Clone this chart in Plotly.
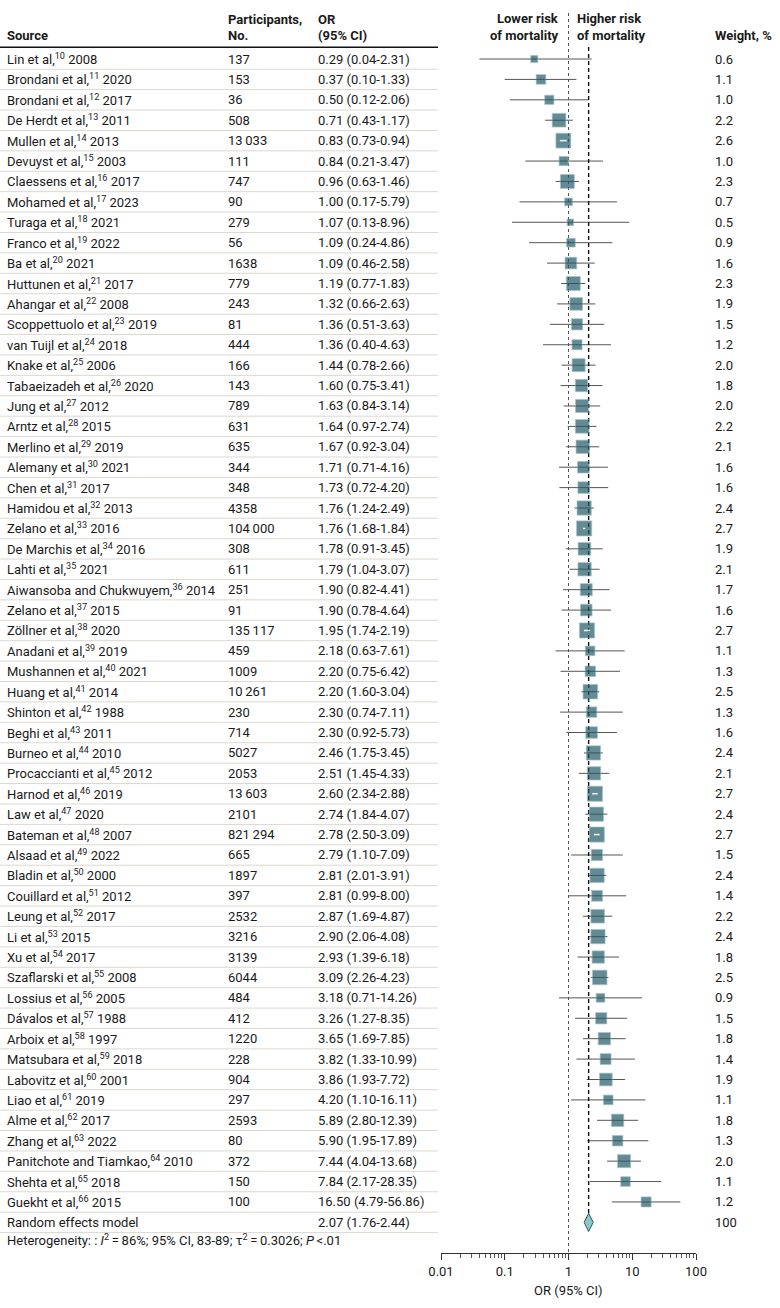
import math
import plotly.graph_objects as go

# ---------------- data ----------------
sources = [
    "Lin et al,<sup>10</sup> 2008", "Brondani et al,<sup>11</sup> 2020", "Brondani et al,<sup>12</sup> 2017",
    "De Herdt et al,<sup>13</sup> 2011", "Mullen et al,<sup>14</sup> 2013", "Devuyst et al,<sup>15</sup> 2003",
    "Claessens et al,<sup>16</sup> 2017", "Mohamed et al,<sup>17</sup> 2023", "Turaga et al,<sup>18</sup> 2021",
    "Franco et al,<sup>19</sup> 2022", "Ba et al,<sup>20</sup> 2021", "Huttunen et al,<sup>21</sup> 2017",
    "Ahangar et al,<sup>22</sup> 2008", "Scoppettuolo et al,<sup>23</sup> 2019", "van Tuijl et al,<sup>24</sup> 2018",
    "Knake et al,<sup>25</sup> 2006", "Tabaeizadeh et al,<sup>26</sup> 2020", "Jung et al,<sup>27</sup> 2012",
    "Arntz et al,<sup>28</sup> 2015", "Merlino et al,<sup>29</sup> 2019", "Alemany et al,<sup>30</sup> 2021",
    "Chen et al,<sup>31</sup> 2017", "Hamidou et al,<sup>32</sup> 2013", "Zelano et al,<sup>33</sup> 2016",
    "De Marchis et al,<sup>34</sup> 2016", "Lahti et al,<sup>35</sup> 2021",
    "Aiwansoba and Chukwuyem,<sup>36</sup> 2014", "Zelano et al,<sup>37</sup> 2015",
    "Zöllner et al,<sup>38</sup> 2020", "Anadani et al,<sup>39</sup> 2019", "Mushannen et al,<sup>40</sup> 2021",
    "Huang et al,<sup>41</sup> 2014", "Shinton et al,<sup>42</sup> 1988", "Beghi et al,<sup>43</sup> 2011",
    "Burneo et al,<sup>44</sup> 2010", "Procaccianti et al,<sup>45</sup> 2012", "Harnod et al,<sup>46</sup> 2019",
    "Law et al,<sup>47</sup> 2020", "Bateman et al,<sup>48</sup> 2007", "Alsaad et al,<sup>49</sup> 2022",
    "Bladin et al,<sup>50</sup> 2000", "Couillard et al,<sup>51</sup> 2012", "Leung et al,<sup>52</sup> 2017",
    "Li et al,<sup>53</sup> 2015", "Xu et al,<sup>54</sup> 2017", "Szaflarski et al,<sup>55</sup> 2008",
    "Lossius et al,<sup>56</sup> 2005", "Dávalos et al,<sup>57</sup> 1988", "Arboix et al,<sup>58</sup> 1997",
    "Matsubara et al,<sup>59</sup> 2018", "Labovitz et al,<sup>60</sup> 2001", "Liao et al,<sup>61</sup> 2019",
    "Alme et al,<sup>62</sup> 2017", "Zhang et al,<sup>63</sup> 2022",
    "Panitchote and Tiamkao,<sup>64</sup> 2010", "Shehta et al,<sup>65</sup> 2018",
    "Guekht et al,<sup>66</sup> 2015",
]
participants = [
    "137", "153", "36", "508", "13\u2009033", "111", "747", "90", "279", "56", "1638", "779", "243", "81",
    "444", "166", "143", "789", "631", "635", "344", "348", "4358", "104\u2009000", "308", "611", "251",
    "91", "135\u2009117", "459", "1009", "10\u2009261", "230", "714", "5027", "2053", "13\u2009603", "2101",
    "821\u2009294", "665", "1897", "397", "2532", "3216", "3139", "6044", "484", "412", "1220", "228",
    "904", "297", "2593", "80", "372", "150", "100",
]
or_est = [
    0.29, 0.37, 0.50, 0.71, 0.83, 0.84, 0.96, 1.00, 1.07, 1.09, 1.09, 1.19, 1.32, 1.36, 1.36, 1.44,
    1.60, 1.63, 1.64, 1.67, 1.71, 1.73, 1.76, 1.76, 1.78, 1.79, 1.90, 1.90, 1.95, 2.18, 2.20, 2.20,
    2.30, 2.30, 2.46, 2.51, 2.60, 2.74, 2.78, 2.79, 2.81, 2.81, 2.87, 2.90, 2.93, 3.09, 3.18, 3.26,
    3.65, 3.82, 3.86, 4.20, 5.89, 5.90, 7.44, 7.84, 16.50,
]
ci_low = [
    0.04, 0.10, 0.12, 0.43, 0.73, 0.21, 0.63, 0.17, 0.13, 0.24, 0.46, 0.77, 0.66, 0.51, 0.40, 0.78,
    0.75, 0.84, 0.97, 0.92, 0.71, 0.72, 1.24, 1.68, 0.91, 1.04, 0.82, 0.78, 1.74, 0.63, 0.75, 1.60,
    0.74, 0.92, 1.75, 1.45, 2.34, 1.84, 2.50, 1.10, 2.01, 0.99, 1.69, 2.06, 1.39, 2.26, 0.71, 1.27,
    1.69, 1.33, 1.93, 1.10, 2.80, 1.95, 4.04, 2.17, 4.79,
]
ci_high = [
    2.31, 1.33, 2.06, 1.17, 0.94, 3.47, 1.46, 5.79, 8.96, 4.86, 2.58, 1.83, 2.63, 3.63, 4.63, 2.66,
    3.41, 3.14, 2.74, 3.04, 4.16, 4.20, 2.49, 1.84, 3.45, 3.07, 4.41, 4.64, 2.19, 7.61, 6.42, 3.04,
    7.11, 5.73, 3.45, 4.33, 2.88, 4.07, 3.09, 7.09, 3.91, 8.00, 4.87, 4.08, 6.18, 4.23, 14.26, 8.35,
    7.85, 10.99, 7.72, 16.11, 12.39, 17.89, 13.68, 28.35, 56.86,
]
weights = [
    0.6, 1.1, 1.0, 2.2, 2.6, 1.0, 2.3, 0.7, 0.5, 0.9, 1.6, 2.3, 1.9, 1.5, 1.2, 2.0, 1.8, 2.0, 2.2,
    2.1, 1.6, 1.6, 2.4, 2.7, 1.9, 2.1, 1.7, 1.6, 2.7, 1.1, 1.3, 2.5, 1.3, 1.6, 2.4, 2.1, 2.7, 2.4,
    2.7, 1.5, 2.4, 1.4, 2.2, 2.4, 1.8, 2.5, 0.9, 1.5, 1.8, 1.4, 1.9, 1.1, 1.8, 1.3, 2.0, 1.1, 1.2,
]
pooled_label = "Random effects model"
pooled_est, pooled_low, pooled_high = 2.07, 1.76, 2.44
pooled_weight = "100"
heterogeneity = ("Heterogeneity: : <i>I</i><sup>2</sup>\u2009=\u200986%; 95% CI, 83-89; "
                 "τ<sup>2</sup>\u2009=\u20090.3026; <i>P</i>\u2009<.01")
axis_ticks = [0.01, 0.1, 1, 10, 100]
axis_ticktext = ["0.01", "0.1", "1", "10", "100"]
minor_ticks = [m * d for d in (0.01, 0.1, 1, 10) for m in range(2, 10)]

# ---------------- geometry / style ----------------
W, H = 780, 1308
ROW0, ROWH = 59.0, 20.41          # pixel centre of first row, row pitch
Y_TOP, Y_BOT = -ROW0 / ROWH, (H - ROW0) / ROWH
def py(p):                          # pixel -> row units
    return (p - ROW0) / ROWH
AXIS_PX = 1253                      # pixel row of the OR axis line
X0_PX, X1_PX = 441, 696             # forest axis span in px
PX_PER_DEC = (X1_PX - X0_PX) / 4.0
FONT = "Roboto"
FS = 13
TXT = "#1a1a1a"
BOX = "#235a67"
BOX_EDGE = "#7aaeb4"
DIAMOND = "#8dc8c4"
SEP = "#dcd8d0"
COL_SRC, COL_N, COL_OR, COL_W = 5, 226, 316, 713
TABLE_RIGHT = 438

n = len(sources)
rows = list(range(n))
pooled_row = n
FX = dict(xaxis="x2", yaxis="y2", hoverinfo="skip")

fig = go.Figure()

# CI lines
cx, cy = [], []
for i in rows:
    cx += [ci_low[i], ci_high[i], None]
    cy += [i, i, None]
fig.add_trace(go.Scatter(x=cx, y=cy, mode="lines", line=dict(color="#555555", width=1), **FX))

# reference lines
fig.add_trace(go.Scatter(x=[1, 1], y=[py(13), py(AXIS_PX)], mode="lines",
                         line=dict(color="#555", width=1, dash="dot"), **FX))
fig.add_trace(go.Scatter(x=[pooled_est, pooled_est], y=[py(47), pooled_row - 0.45], mode="lines",
                         line=dict(color="#111", width=1.4, dash="4px,3px"), **FX))

# squares
sizes = [9.2 * math.sqrt(w) for w in weights]
fig.add_trace(go.Scatter(x=or_est, y=rows, mode="markers",
                         marker=dict(symbol="square", size=sizes, color=BOX,
                                     line=dict(color=BOX_EDGE, width=0.7)), **FX))

# CI inside box drawn white
wx, wy = [], []
for i in rows:
    half = sizes[i] / 2 - 1
    lo_px = math.log10(or_est[i] / ci_low[i]) * PX_PER_DEC
    hi_px = math.log10(ci_high[i] / or_est[i]) * PX_PER_DEC
    if lo_px < half and hi_px < half:
        wx += [ci_low[i], ci_high[i], None]
        wy += [i, i, None]
fig.add_trace(go.Scatter(x=wx, y=wy, mode="lines", line=dict(color="#e8eef0", width=1.6), **FX))

# diamond
fig.add_trace(go.Scatter(x=[pooled_low, pooled_est, pooled_high, pooled_est, pooled_low],
                         y=[pooled_row, pooled_row - 0.45, pooled_row, pooled_row + 0.45, pooled_row],
                         mode="lines", fill="toself", fillcolor=DIAMOND,
                         line=dict(color=BOX, width=1), **FX))

ann = []
def add_text(x, y, text, anchor="left", bold=False, size=FS):
    ann.append(dict(x=x, y=y, xref="x", yref="y", text=f"<b>{text}</b>" if bold else text,
                    showarrow=False, xanchor=anchor, yanchor="middle",
                    font=dict(family=FONT, size=size, color=TXT)))

# headers
add_text(COL_SRC, py(35), "Source", bold=True)
add_text(COL_N, py(19), "Participants,", bold=True)
add_text(COL_N, py(35), "No.", bold=True)
add_text(COL_OR, py(19), "OR", bold=True)
add_text(COL_OR, py(35), "(95% CI)", bold=True)
add_text(561, py(18), "Lower risk", anchor="right", bold=True)
add_text(561, py(35), "of mortality", anchor="right", bold=True)
add_text(575, py(18), "Higher risk", bold=True)
add_text(575, py(35), "of mortality", bold=True)
add_text(COL_W, py(35), "Weight, %", bold=True)

for i in rows:
    add_text(COL_SRC, i, sources[i])
    add_text(COL_N, i, participants[i])
    add_text(COL_OR, i, f"{or_est[i]:.2f} ({ci_low[i]:.2f}-{ci_high[i]:.2f})")
    add_text(COL_W, i, f"{weights[i]:.1f}")
add_text(COL_SRC, pooled_row, pooled_label)
add_text(COL_OR, pooled_row, f"{pooled_est:.2f} ({pooled_low:.2f}-{pooled_high:.2f})")
add_text(COL_W, pooled_row, pooled_weight)
add_text(COL_SRC, py(1240), heterogeneity)
add_text((X0_PX + X1_PX) / 2, py(1290), "OR (95% CI)", anchor="center")

shapes = [dict(type="line", xref="x", yref="y", x0=0, x1=TABLE_RIGHT, y0=-0.58, y1=-0.58,
               line=dict(color="#111", width=1.5))]
for i in range(n + 1):
    shapes.append(dict(type="line", xref="x", yref="y", x0=0, x1=TABLE_RIGHT,
                       y0=i + 0.5, y1=i + 0.5, line=dict(color=SEP, width=1)))

fig.update_layout(
    width=W, height=H, margin=dict(l=0, r=0, t=0, b=0, autoexpand=False),
    paper_bgcolor="white", plot_bgcolor="rgba(0,0,0,0)", showlegend=False,
    xaxis=dict(range=[0, W], domain=[0, 1], anchor="y", visible=False, automargin=False),
    yaxis=dict(range=[Y_BOT, Y_TOP], domain=[0, 1], anchor="x", visible=False, automargin=False),
    xaxis2=dict(type="log", range=[-2, 2], domain=[X0_PX / W, X1_PX / W], anchor="y2",
                automargin=False, showline=True, linecolor="#333", linewidth=1,
                ticks="outside", ticklen=6, tickcolor="#333", tickvals=axis_ticks,
                ticktext=axis_ticktext, tickfont=dict(family=FONT, size=FS, color=TXT),
                showgrid=False, zeroline=False,
                minor=dict(tickmode="array", tickvals=minor_ticks, ticks="outside", ticklen=4,
                           tickcolor="#555", showgrid=False)),
    yaxis2=dict(range=[py(AXIS_PX), Y_TOP], domain=[1 - AXIS_PX / H, 1], anchor="x2",
                visible=False, automargin=False),
    annotations=ann, shapes=shapes,
)
fig.write_html("out.html", config={"displayModeBar": False},
               post_script="document.body.style.margin='0';document.body.style.overflow='hidden';")
